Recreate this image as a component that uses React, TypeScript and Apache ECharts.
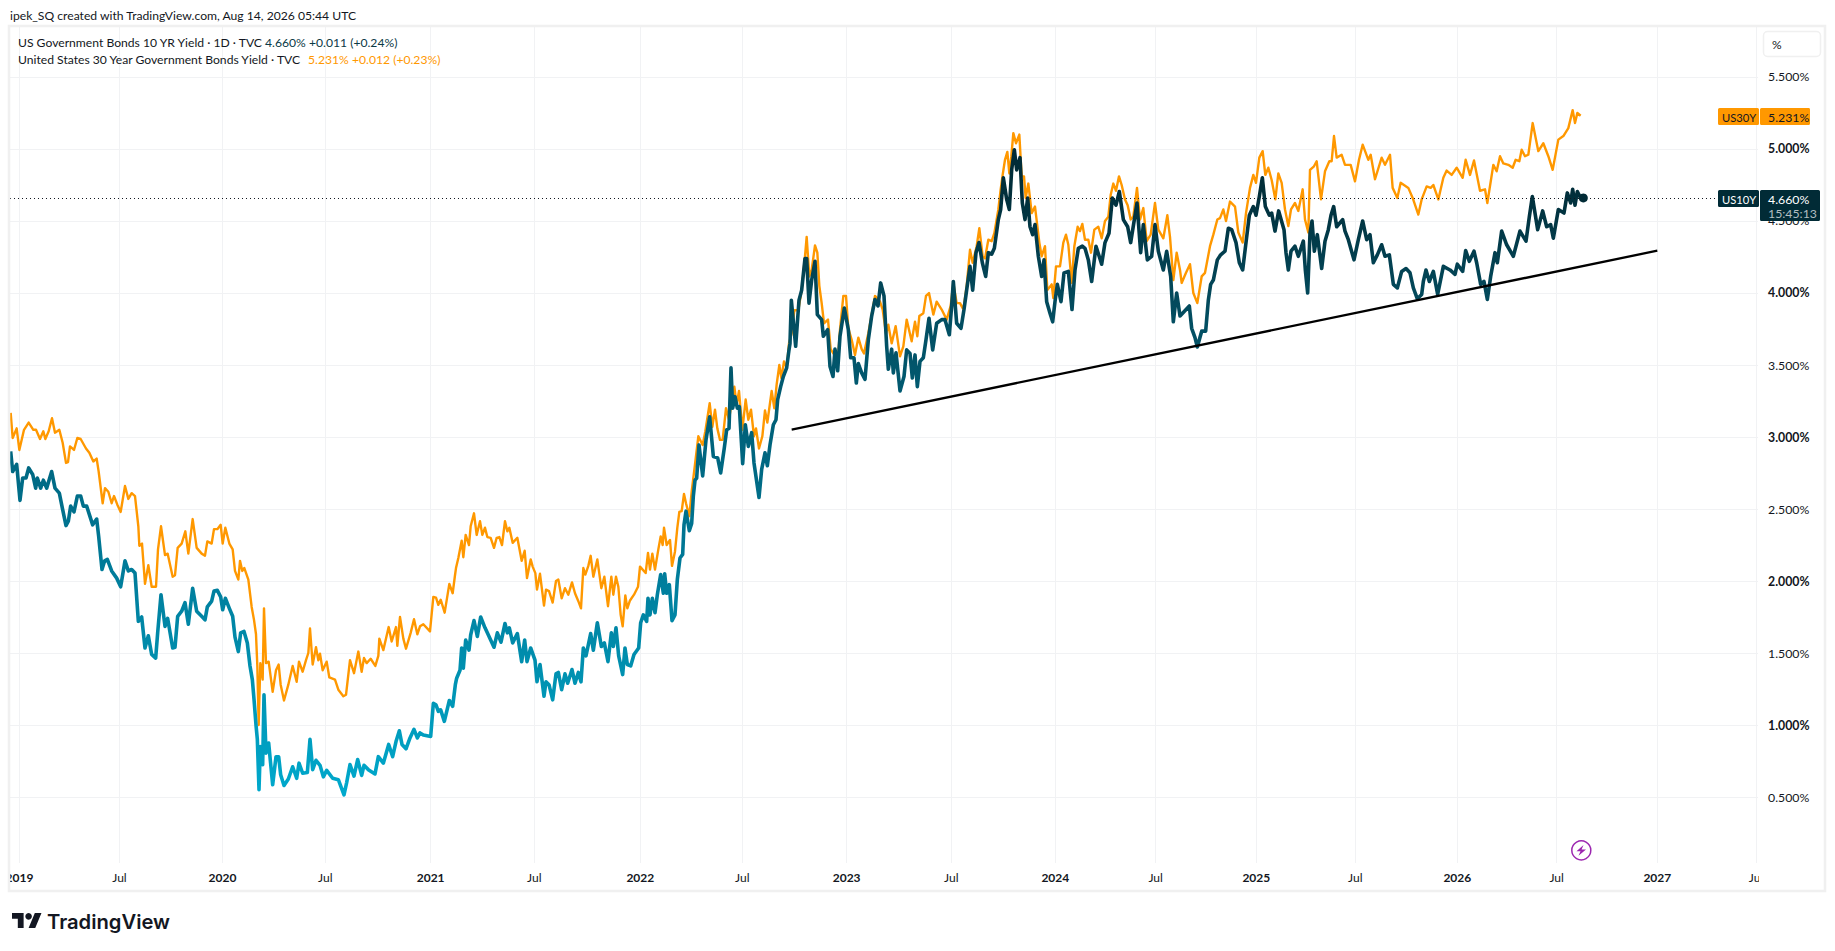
import React, { useEffect, useRef } from "react";
import * as echarts from "echarts";

// [session step, yield %]; each part is offset by its base step.
const us30yA = [[32,3.167],[38,2.993],[50,3.06],[58,2.91],[72,3.05],[86,3.10],[100,3.05],[108,3.05],[120,2.986],[130,3.04],[136,2.986],[146,3.04],[156,3.13],[165,3.03],[178,3.05],[188,2.96],[198,2.82],[204,2.825],[210,2.935],[222,2.91],[232,2.993],[242,2.986],[258,2.92],[268,2.89],[280,2.83],[290,2.85],[296,2.76],[308,2.54],[315,2.645],[325,2.62],[335,2.54],[342,2.59],[352,2.53],[362,2.48],[375,2.66],[385,2.57],[395,2.61],[405,2.59],[415,2.38],[418,2.245],[426,2.26],[435,1.98],[445,2.11],[455,1.96],[468,1.96],[474,2.22],[483,2.38],[495,2.18],[503,2.19],[518,2.03],[525,2.04],[533,2.23],[545,2.26],[556,2.345],[565,2.19],[578,2.43],[590,2.23],[605,2.19],[615,2.176],[622,2.275],[635,2.26],[642,2.36],[652,2.36],[662,2.39],[668,2.26],[676,2.37],[688,2.26],[698,2.22],[705,2.07],[715,2.01],[720,2.14],[727,2.07],[733,2.09],[745,2.01],[755,1.82],[762,1.73],[768,1.63],[772,1.41],[776,1.00],[781,1.43],[788,1.315],[792,1.81],[798,1.43],[806,1.44],[818,1.23],[828,1.38],[836,1.42],[842,1.28],[852,1.17],[865,1.28],[878,1.41],[890,1.30],[897,1.44],[908,1.37],[918,1.45],[925,1.50],[930,1.67],[938,1.42],[948,1.54],[955,1.45],[960,1.495],[968,1.38],[980,1.44],[988,1.33],[1005,1.315],[1015,1.245],[1030,1.20],[1038,1.21],[1050,1.45],[1062,1.36],[1075,1.51],[1085,1.37],[1092,1.465],[1100,1.43],[1112,1.46],[1126,1.41],[1135,1.48],[1138,1.60],[1150,1.52],[1166,1.68],[1175,1.58],[1188,1.68],[1192,1.55],[1200,1.75],[1210,1.60],[1218,1.53],[1232,1.64],[1242,1.735],[1252,1.63]];
const us30yB = [[60,1.685],[70,1.70],[90,1.65],[100,1.89],[108,1.885],[115,1.835],[122,1.87],[134,1.78],[148,1.98],[158,1.915],[165,2.04],[168,2.09],[175,2.16],[185,2.28],[190,2.165],[197,2.32],[207,2.25],[212,2.38],[222,2.47],[230,2.32],[240,2.415],[247,2.32],[255,2.37],[262,2.305],[272,2.30],[282,2.23],[290,2.30],[298,2.305],[306,2.25],[315,2.415],[322,2.345],[328,2.37],[338,2.265],[352,2.30],[365,2.14],[374,2.21],[381,2.02],[392,2.15],[398,2.10],[406,2.055],[411,1.94],[420,2.05],[432,1.83],[438,1.94],[447,1.93],[458,1.85],[468,2.0],[475,2.01],[485,1.88],[495,1.95],[505,1.905],[516,1.99],[525,1.915],[535,1.86],[543,1.81],[550,2.09],[556,2.045],[565,2.105],[572,2.175],[580,2.03],[592,2.15],[604,1.95],[613,2.03],[624,1.825],[634,2.03],[640,1.905],[648,2.03],[655,1.96],[662,1.765],[668,1.685],[676,1.90],[682,1.81],[690,1.865],[702,1.905],[714,1.96],[720,2.10],[737,2.055],[744,2.195],[750,2.08],[757,2.19],[765,2.08],[775,2.22],[782,2.31],[788,2.25],[792,2.37],[800,2.25],[810,2.285],[816,2.105],[825,2.205],[832,2.37],[838,2.48],[845,2.485],[852,2.605],[858,2.54],[868,2.45]];
const us30yC = [[35,2.62],[45,2.81],[55,3.005],[68,2.945],[76,3.04],[89,3.235],[97,3.07],[105,3.19],[112,3.06],[120,2.98],[128,2.98],[138,3.20],[147,3.12],[153,3.21],[163,3.35],[170,3.225],[177,3.32],[187,3.05],[197,3.26],[205,3.12],[213,3.19],[222,3.005],[228,3.06],[237,2.92],[247,3.005],[255,3.185],[262,3.10],[275,3.32],[283,3.20],[290,3.365],[298,3.50],[304,3.41],[312,3.525],[320,3.48],[327,3.65]];
const us30yD = [[95,3.72],[103,3.88],[115,3.88],[125,4.02],[135,4.255],[140,4.39],[148,4.115],[155,4.16],[165,4.33],[172,4.28],[178,4.05],[185,3.93],[192,3.79],[204,3.815],[212,3.61],[220,3.58],[235,3.58],[240,3.745],[250,3.98],[258,3.98],[265,3.755],[275,3.675],[285,3.57],[295,3.69],[305,3.61],[312,3.58],[325,3.72],[333,3.825],[345,3.98],[360,3.94],[368,3.885],[378,3.72],[385,3.78],[395,3.65],[407,3.77],[420,3.56],[430,3.63],[440,3.815],[455,3.665],[465,3.80],[472,3.70],[478,3.84],[490,3.86],[498,3.98],[507,4.00],[520,3.85],[530,3.94],[545,3.885],[560,3.815],[572,3.91],[580,4.07],[590,3.93],[600,3.93],[610,3.885],[620,4.05],[630,4.30],[638,4.21],[650,4.325],[658,4.45],[668,4.255],[675,4.24],[685,4.37],[695,4.36],[703,4.415],[715,4.58],[722,4.72],[728,4.82],[735,4.925],[742,4.98],[748,4.83],[754,4.95],[760,5.11],[768,5.04],[778,5.10],[785,4.81],[792,4.81],[797,4.66],[805,4.76],[815,4.555],[825,4.60],[838,4.35],[845,4.255],[855,4.325],[862,4.02],[875,4.06],[880,3.965],[888,4.185],[900,4.185],[910,4.35],[918,4.405],[925,4.335],[935,4.07],[943,4.325],[953,4.46],[960,4.43],[967,4.48],[975,4.37],[985,4.37],[993,4.28],[1003,4.44],[1015,4.46],[1025,4.38],[1035,4.50],[1045,4.53],[1052,4.68],[1060,4.76],[1068,4.71],[1077,4.81],[1085,4.75],[1095,4.65],[1103,4.61],[1112,4.51],[1120,4.53],[1131,4.73],[1140,4.51],[1150,4.59],[1160,4.36],[1172,4.405],[1185,4.625],[1195,4.44],[1210,4.38],[1222,4.54],[1230,4.39],[1240,4.09],[1250,4.28],[1260,4.16]];
const us30yE = [[65,4.07],[78,4.14],[90,4.20],[100,4.0],[112,3.93],[125,4.115],[135,4.14],[150,4.325],[160,4.405],[172,4.51],[180,4.52],[190,4.58],[198,4.50],[210,4.635],[225,4.60],[235,4.42],[248,4.35],[258,4.555],[270,4.73],[280,4.82],[288,4.765],[298,4.94],[308,4.985],[316,4.82],[325,4.87],[335,4.785],[346,4.65],[355,4.83],[365,4.765],[375,4.58],[385,4.465],[393,4.58],[405,4.625],[415,4.57],[428,4.72],[435,4.51],[445,4.42],[450,4.855],[462,4.88],[470,4.915],[483,4.65],[495,4.845],[508,4.915],[515,4.915],[522,5.09],[530,4.94],[545,4.96],[555,4.89],[572,4.89],[585,4.775],[597,4.925],[608,5.03],[625,4.925],[632,4.96],[645,4.79],[665,4.94],[675,4.89],[690,4.96],[698,4.73],[712,4.66],[722,4.765],[745,4.73],[758,4.66],[775,4.545],[785,4.65],[800,4.74],[812,4.73],[820,4.75],[835,4.65],[850,4.80],[860,4.85],[875,4.82],[890,4.87],[908,4.80],[917,4.925],[930,4.82],[942,4.92],[960,4.71],[975,4.72],[982,4.625],[1000,4.89],[1010,4.845],[1020,4.95],[1030,4.90],[1045,4.89],[1058,4.87],[1067,4.925],[1078,4.915],[1085,4.995],[1095,4.95],[1105,4.96],[1118,5.18],[1135,4.985],[1150,5.04],[1165,4.95],[1178,4.855],[1195,5.065],[1210,5.09],[1225,5.145],[1238,5.27],[1245,5.18],[1252,5.25],[1262,5.231]];

const us10yA = [[32,2.90],[38,2.76],[50,2.81],[60,2.56],[68,2.715],[78,2.715],[86,2.785],[98,2.74],[107,2.645],[112,2.715],[122,2.645],[130,2.70],[140,2.645],[155,2.76],[165,2.645],[178,2.61],[188,2.495],[198,2.385],[205,2.415],[212,2.52],[222,2.48],[232,2.59],[242,2.59],[250,2.52],[260,2.52],[278,2.39],[290,2.43],[296,2.31],[306,2.08],[314,2.14],[322,2.15],[335,2.07],[350,2.02],[362,1.96],[375,2.14],[385,2.07],[395,2.08],[405,2.055],[415,1.72],[425,1.75],[435,1.535],[445,1.62],[455,1.49],[467,1.465],[473,1.64],[483,1.905],[495,1.685],[503,1.74],[518,1.535],[525,1.54],[533,1.755],[545,1.79],[555,1.85],[565,1.70],[578,1.95],[590,1.79],[605,1.755],[615,1.73],[622,1.82],[635,1.86],[642,1.93],[652,1.935],[662,1.89],[668,1.80],[676,1.88],[688,1.81],[698,1.755],[705,1.61],[715,1.51],[722,1.64],[732,1.65],[742,1.57],[750,1.41],[757,1.315],[762,1.18],[768,1.00],[772,0.90],[777,0.55],[781,0.85],[788,0.725],[792,1.21],[798,0.805],[806,0.875],[818,0.585],[828,0.78],[836,0.78],[842,0.655],[852,0.58],[865,0.625],[878,0.71],[890,0.63],[897,0.735],[908,0.665],[922,0.67],[930,0.90],[938,0.69],[948,0.755],[960,0.72],[970,0.64],[980,0.685],[998,0.63],[1015,0.62],[1032,0.515],[1040,0.60],[1050,0.725],[1062,0.645],[1073,0.76],[1085,0.65],[1092,0.72],[1105,0.69],[1125,0.66],[1135,0.78],[1150,0.735],[1166,0.865],[1178,0.78],[1188,0.885],[1198,0.96],[1206,0.865],[1218,0.835],[1230,0.91],[1242,0.97],[1252,0.91]];
const us10yB = [[60,0.945],[70,0.93],[92,0.92],[100,1.15],[108,1.14],[115,1.095],[122,1.105],[133,1.025],[148,1.17],[158,1.13],[166,1.28],[170,1.325],[180,1.38],[185,1.535],[190,1.395],[197,1.59],[207,1.52],[212,1.625],[222,1.725],[232,1.615],[242,1.75],[255,1.675],[262,1.64],[272,1.59],[282,1.54],[292,1.64],[303,1.575],[315,1.705],[322,1.64],[328,1.675],[338,1.57],[352,1.635],[365,1.44],[374,1.59],[381,1.44],[392,1.535],[405,1.45],[411,1.30],[420,1.42],[432,1.20],[438,1.30],[447,1.28],[458,1.175],[468,1.355],[475,1.365],[485,1.245],[495,1.355],[503,1.29],[516,1.385],[525,1.29],[535,1.365],[543,1.30],[550,1.535],[558,1.48],[572,1.635],[580,1.52],[592,1.71],[604,1.545],[613,1.57],[624,1.44],[634,1.64],[640,1.545],[648,1.675],[656,1.48],[668,1.35],[675,1.535],[682,1.42],[692,1.41],[702,1.49],[716,1.535],[722,1.71],[730,1.765],[740,1.72],[744,1.88],[750,1.765],[757,1.88],[765,1.78],[772,1.905],[782,2.045],[790,1.915],[794,2.05],[800,1.915],[808,1.975],[816,1.725],[825,1.765],[832,2.01],[840,2.16],[848,2.185],[852,2.39],[858,2.485],[868,2.35],[875,2.40],[880,2.59],[885,2.70]];
const us10yC = [[50,2.715],[57,2.945],[68,2.73],[78,2.98],[89,3.14],[100,2.865],[113,2.855],[122,2.75],[133,2.925],[140,3.05],[147,3.06],[153,3.48],[158,3.20],[165,3.28],[172,3.20],[178,3.21],[188,2.815],[196,3.085],[205,2.935],[215,3.03],[222,2.82],[237,2.58],[245,2.775],[255,2.89],[262,2.80],[270,2.945],[280,3.085],[288,3.12],[293,3.26],[302,3.35],[310,3.42],[320,3.48],[327,3.605]];
const us10yD = [[90,3.65],[94,3.95],[107,3.63],[117,3.95],[125,4.02],[135,4.24],[140,4.24],[147,3.93],[155,4.09],[165,4.22],[172,3.85],[185,3.815],[190,3.70],[203,3.745],[210,3.49],[219,3.42],[225,3.61],[233,3.46],[240,3.70],[253,3.895],[265,3.745],[272,3.55],[282,3.55],[289,3.375],[295,3.51],[305,3.445],[315,3.40],[325,3.675],[335,3.84],[345,3.955],[354,3.91],[362,4.07],[372,3.98],[380,3.63],[385,3.47],[395,3.61],[400,3.445],[408,3.585],[420,3.32],[432,3.42],[440,3.605],[450,3.58],[457,3.41],[465,3.57],[472,3.35],[480,3.525],[490,3.55],[498,3.675],[507,3.825],[518,3.605],[530,3.79],[545,3.815],[555,3.815],[568,3.71],[575,3.91],[580,4.08],[590,3.79],[603,3.755],[612,3.885],[620,4.02],[630,4.185],[638,4.02],[648,4.28],[657,4.35],[667,4.21],[677,4.115],[685,4.28],[695,4.27],[703,4.31],[715,4.51],[722,4.58],[730,4.80],[740,4.65],[748,4.58],[755,4.855],[763,4.995],[770,4.855],[780,4.94],[787,4.625],[795,4.51],[803,4.66],[810,4.46],[818,4.405],[825,4.475],[835,4.255],[845,4.115],[852,4.23],[860,3.94],[870,3.86],[878,3.80],[885,3.94],[892,4.06],[903,3.94],[912,4.14],[925,4.15],[936,3.885],[945,4.16],[955,4.31],[967,4.325],[975,4.31],[985,4.23],[995,4.08],[1008,4.325],[1025,4.20],[1035,4.35],[1047,4.415],[1057,4.66],[1068,4.61],[1078,4.705],[1090,4.51],[1103,4.46],[1112,4.35],[1131,4.625],[1142,4.28],[1150,4.475],[1162,4.23],[1175,4.255],[1185,4.475],[1195,4.29],[1210,4.16],[1220,4.29],[1232,4.115],[1240,3.80],[1250,4.00],[1260,3.84]];
const us10yE = [[88,3.91],[95,3.755],[105,3.69],[112,3.625],[125,3.735],[137,3.735],[145,3.95],[152,4.06],[160,4.09],[172,4.23],[182,4.265],[195,4.29],[205,4.45],[215,4.44],[228,4.35],[238,4.21],[248,4.16],[258,4.35],[268,4.54],[280,4.60],[288,4.54],[298,4.67],[307,4.80],[316,4.60],[328,4.54],[335,4.555],[345,4.43],[356,4.57],[372,4.44],[378,4.28],[385,4.16],[393,4.29],[405,4.325],[415,4.255],[430,4.36],[436,4.16],[443,4.0],[450,4.415],[456,4.50],[463,4.29],[472,4.405],[485,4.17],[495,4.36],[505,4.44],[513,4.54],[521,4.60],[530,4.46],[548,4.51],[555,4.43],[565,4.37],[582,4.23],[595,4.37],[608,4.50],[620,4.37],[630,4.405],[640,4.21],[652,4.265],[665,4.335],[675,4.255],[688,4.265],[700,4.06],[712,4.035],[725,4.15],[738,4.17],[750,4.14],[760,4.035],[772,3.96],[785,3.99],[790,4.08],[798,4.16],[808,4.08],[820,4.15],[833,3.99],[850,4.185],[870,4.16],[885,4.13],[892,4.20],[908,4.15],[917,4.295],[928,4.22],[942,4.29],[950,4.21],[962,4.06],[972,4.08],[982,3.955],[992,4.115],[1005,4.28],[1012,4.21],[1025,4.43],[1040,4.335],[1060,4.255],[1080,4.43],[1098,4.36],[1108,4.53],[1117,4.67],[1133,4.44],[1148,4.57],[1160,4.46],[1172,4.475],[1180,4.38],[1195,4.58],[1212,4.555],[1222,4.695],[1232,4.625],[1238,4.72],[1245,4.61],[1252,4.705],[1262,4.66],[1270,4.66]];

const trendLine = [[2375, 3.052], [4972, 4.294]];
const lastClose10y = 4.66;
const lastClose30y = 5.231;
const lastStep = 4750;

const xTickSteps = [58.5, 358.5, 667.5, 976, 1292, 1603, 1921, 2227, 2540, 2854, 3166, 3467, 3769, 4066, 4372, 4670, 4972, 5268];
const xTickLabels = ["2019", "Jul", "2020", "Jul", "2021", "Jul", "2022", "Jul", "2023", "Jul", "2024", "Jul", "2025", "Jul", "2026", "Jul", "2027", "Jul"];
const yTicks = [0.5, 1, 1.5, 2, 2.5, 3, 3.5, 4, 4.5, 5, 5.5];

const titleText = "ipek_SQ created with TradingView.com, Aug 14, 2026 05:44 UTC";
const legend10 = "US Government Bonds 10 YR Yield · 1D · TVC";
const legend30 = "United States 30 Year Government Bonds Yield · TVC";

const shift = (base: number, pts: number[][]) => pts.map(([t, v]) => [t + base, v]);
const series30y = [...shift(0, us30yA), ...shift(1200, us30yB), ...shift(2040, us30yC), ...shift(2280, us30yD), ...shift(3480, us30yE)];
const series10y = [...shift(0, us10yA), ...shift(1200, us10yB), ...shift(2040, us10yC), ...shift(2280, us10yD), ...shift(3480, us10yE)];

const FONT = "Lato, 'Open Sans', sans-serif";
const INK = "#131722";
const DARK = "#012b36";
const ORANGE = "#ff9800";
const GRID = "#f1f2f4";

echarts.graphic.registerShape(
  "tvLogo",
  echarts.graphic.extendPath("M14 22H7V11H0V4h14v18zM28 22h-8l7.5-18h8L28 22z", {}) as any
);

const txt = (x: number, y: number, text: string, fill: string, fontSize = 12.15, fontWeight: any = 400, extra: any = {}) => ({
  type: "text",
  x,
  y,
  z: 120,
  style: { text, fill, font: `${fontWeight} ${fontSize}px ${FONT}`, textVerticalAlign: "middle", verticalAlign: "middle", ...extra },
});
const box = (x: number, y: number, width: number, height: number, fill: string) => ({
  type: "rect",
  z: 110,
  shape: { x, y, width, height, r: 1.5 },
  style: { fill },
});

export default function App() {
  const ref = useRef<HTMLDivElement>(null);
  useEffect(() => {
    document.body.style.margin = "0";
    const chart = echarts.init(ref.current!, null, { renderer: "svg", width: 1835, height: 951 });
    chart.setOption({
      animation: false,
      backgroundColor: "#ffffff",
      grid: { left: 10, top: 27, width: 1748, height: 836, containLabel: false },
      xAxis: {
        type: "value",
        min: 30,
        max: 5274,
        axisLine: { show: false },
        axisTick: { show: false, customValues: xTickSteps },
        splitLine: { show: true, lineStyle: { color: GRID, width: 1 } },
        axisLabel: {
          customValues: xTickSteps,
          margin: 8,
          hideOverlap: false,
          formatter: (v: number) => {
            const s = xTickLabels[xTickSteps.indexOf(v)] ?? "";
            return s === "Jul" ? `{m|${s}}` : `{y|${s}}`;
          },
          rich: {
            m: { fontFamily: FONT, fontSize: 12, color: INK },
            y: { fontFamily: FONT, fontSize: 12, fontWeight: 700, color: INK },
          },
        },
      },
      yAxis: {
        type: "value",
        position: "right",
        min: 0.0417,
        max: 5.8472,
        axisLine: { show: false },
        axisTick: { show: false, customValues: yTicks },
        splitLine: { show: true, lineStyle: { color: GRID, width: 1 } },
        axisLabel: {
          customValues: yTicks,
          margin: 10,
          hideOverlap: false,
          formatter: (v: number) => {
            const s = v.toFixed(3) + "%";
            return Number.isInteger(v) ? `{b|${s}}` : `{r|${s}}`;
          },
          rich: {
            r: { fontFamily: FONT, fontSize: 12.3, color: INK },
            b: { fontFamily: FONT, fontSize: 12.3, fontWeight: 700, color: INK },
          },
        },
      },
      series: [
        {
          name: "US30Y",
          type: "line",
          data: series30y,
          showSymbol: false,
          symbol: "none",
          z: 3,
          lineStyle: { color: ORANGE, width: 2.4, join: "round" },
        },
        {
          name: "US10Y",
          type: "line",
          data: series10y,
          showSymbol: false,
          symbol: "none",
          z: 4,
          lineStyle: {
            width: 3.6,
            join: "round",
            color: new echarts.graphic.LinearGradient(0, 0, 0, 1, [
              { offset: 0, color: "#012b36" },
              { offset: 0.07, color: "#012f3b" },
              { offset: 0.22, color: "#03485a" },
              { offset: 0.45, color: "#00637c" },
              { offset: 0.68, color: "#007f9e" },
              { offset: 0.85, color: "#0096b6" },
              { offset: 1, color: "#00a9cd" },
            ]),
          },
          markLine: {
            silent: true,
            symbol: "none",
            animation: false,
            label: { show: false },
            lineStyle: { color: INK, width: 1, type: [1, 3] },
            data: [{ yAxis: lastClose10y }],
          },
          markPoint: {
            silent: true,
            symbol: "circle",
            symbolSize: 9,
            label: { show: false },
            itemStyle: { color: DARK },
            data: [{ coord: [lastStep, lastClose10y] }],
          },
        },
        {
          name: "Trend",
          type: "line",
          data: trendLine,
          showSymbol: false,
          symbol: "none",
          z: 5,
          lineStyle: { color: "#000000", width: 2.3 },
        },
      ],
      graphic: {
        elements: [
          // masks that clip the axis labels at the pane edges
          { type: "rect", z: 100, shape: { x: 0, y: 864, width: 8, height: 28 }, style: { fill: "#ffffff" } },
          { type: "rect", z: 100, shape: { x: 1759, y: 864, width: 64, height: 26 }, style: { fill: "#ffffff" } },
          {
            type: "rect",
            z: 105,
            shape: { x: 9, y: 26, width: 1816, height: 865 },
            style: { fill: "none", stroke: "#f0f0f0", lineWidth: 2.5 },
          },
          txt(10, 15, titleText, INK),
          txt(18, 42, legend10, INK),
          txt(265, 42, "4.660%", "#0b3a46"),
          txt(309, 42, "+0.011 (+0.24%)", "#0b3a46"),
          txt(18, 59, legend30, INK),
          txt(308, 59, "5.231%", ORANGE),
          txt(352, 59, "+0.012 (+0.23%)", ORANGE),
          {
            type: "rect",
            z: 110,
            shape: { x: 1763.5, y: 31.5, width: 57, height: 25, r: 4 },
            style: { fill: "#ffffff", stroke: "#f0f0f0", lineWidth: 1.5 },
          },
          txt(1772, 44, "%", INK, 12),
          box(1718, 108, 41, 17, ORANGE),
          box(1760, 108, 50, 17, ORANGE),
          txt(1722, 117, "US30Y", INK, 11.2),
          txt(1768, 117, "5.231%", INK, 12.3),
          box(1718, 190, 41, 17, DARK),
          box(1760, 190, 60, 31, DARK),
          txt(1722, 199, "US10Y", "#ffffff", 11.2),
          txt(1768, 199, "4.660%", "#ffffff", 12.3),
          txt(1768, 213, "15:45:13", "#b2bdc0", 12.3),
          {
            type: "circle",
            z: 110,
            shape: { cx: 1581.3, cy: 850.3, r: 9.5 },
            style: { fill: "#ffffff", stroke: "#9c27b0", lineWidth: 1.5 },
          },
          {
            type: "polygon",
            z: 111,
            shape: { points: [[1583.5, 845], [1576.5, 851.2], [1580.5, 851.2], [1578.5, 855.8], [1586, 849.4], [1581.6, 849.4]] },
            style: { fill: "#9c27b0" },
          },
          { type: "tvLogo", z: 110, x: 12, y: 909.7, scaleX: 0.83, scaleY: 0.83, style: { fill: INK } },
          { type: "circle", z: 110, shape: { cx: 28.6, cy: 916.3, r: 3.3 }, style: { fill: INK } },
          {
            type: "text",
            x: 47,
            y: 921,
            z: 120,
            style: { text: "TradingView", fill: INK, font: "600 20.2px Inter, sans-serif", verticalAlign: "middle" },
          },
        ],
      },
    });
    return () => chart.dispose();
  }, []);
  return <div ref={ref} style={{ position: "fixed", left: 0, top: 0, width: 1835, height: 951 }} />;
}
